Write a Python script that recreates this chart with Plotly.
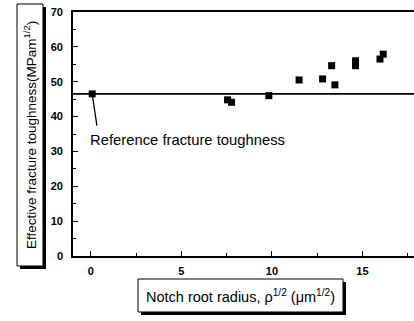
import plotly.graph_objects as go

# ---- data ----
notch_root_radius_sqrt = [0.07, 7.55, 7.77, 9.83, 11.5, 12.8, 13.3, 13.48, 14.62, 14.62, 15.97, 16.15]
effective_toughness = [46.5, 44.8, 44.1, 46.0, 50.5, 50.8, 54.6, 49.1, 56.0, 54.6, 56.5, 57.9]
reference_toughness = 46.5
x_ticks = [0, 5, 10, 15]
y_ticks = [0, 10, 20, 30, 40, 50, 60, 70]

FONT = "Liberation Sans, Arial, sans-serif"

fig = go.Figure()
fig.add_trace(go.Scatter(
    x=notch_root_radius_sqrt, y=effective_toughness, mode="markers",
    marker=dict(symbol="square", size=7, color="black"),
    showlegend=False, cliponaxis=False, hoverinfo="skip"))

fig.add_hline(y=reference_toughness, line=dict(color="black", width=1.6))

# arrow line from reference point to label
fig.add_shape(type="line", xref="x", yref="y",
              x0=notch_root_radius_sqrt[0], y0=reference_toughness,
              x1=0.33, y1=37.4, line=dict(color="black", width=1.3))
fig.add_annotation(x=-0.15, y=33.4, xref="x", yref="y", text="Reference fracture toughness",
                   showarrow=False, xanchor="left", yanchor="middle",
                   font=dict(family=FONT, size=14.8, color="black"))

# y title box with shadow
fig.add_shape(type="rect", xref="paper", yref="paper", x0=-0.1554, x1=-0.0792, y0=-0.0533, y1=1.0205,
              fillcolor="black", line=dict(width=0), layer="below")
fig.add_shape(type="rect", xref="paper", yref="paper", x0=-0.1642, x1=-0.0880, y0=-0.041, y1=1.0328,
              fillcolor="white", line=dict(color="black", width=1), layer="below")
fig.add_annotation(x=-0.126, y=0.496, xref="paper", yref="paper", xanchor="center", yanchor="middle",
                   text="Effective fracture toughness(MPam<sup>1/2</sup>)", textangle=-90,
                   showarrow=False, font=dict(family=FONT, size=13.5, color="black"))

# x title box with shadow
fig.add_shape(type="rect", xref="paper", yref="paper", x0=0.1994, x1=0.8006, y0=-0.2418, y1=-0.1066,
              fillcolor="black", line=dict(width=0), layer="below")
fig.add_shape(type="rect", xref="paper", yref="paper", x0=0.1906, x1=0.7918, y0=-0.2295, y1=-0.0943,
              fillcolor="white", line=dict(color="black", width=1), layer="below")
fig.add_annotation(x=0.491, y=-0.162, xref="paper", yref="paper", xanchor="center", yanchor="middle",
                   text="Notch root radius, \u03c1<sup>1/2</sup> (\u03bcm<sup>1/2</sup>)",
                   showarrow=False, font=dict(family=FONT, size=14.5, color="black"))

fig.update_layout(
    width=414, height=321,
    margin=dict(l=73, r=0, t=12, b=65),
    paper_bgcolor="white", plot_bgcolor="rgba(0,0,0,0)",
    font=dict(family=FONT, color="black"),
    hovermode=False,
    xaxis=dict(range=[-0.99, 17.85], tickvals=x_ticks, showgrid=False, zeroline=False,
               showline=True, linecolor="black", linewidth=1.6, mirror=True,
               ticks="inside", ticklen=5, tickwidth=1.3, tickcolor="black",
               minor=dict(dtick=2.5, tick0=0, ticks="inside", ticklen=3, tickcolor="black"),
               tickfont=dict(family=FONT, size=11, weight="bold"), ticklabelstandoff=4),
    yaxis=dict(range=[0, 70], tickvals=y_ticks, showgrid=False, zeroline=False,
               showline=True, linecolor="black", linewidth=1.6, mirror=False,
               ticks="inside", ticklen=5, tickwidth=1.3, tickcolor="black",
               minor=dict(dtick=5, tick0=0, ticks="inside", ticklen=3, tickcolor="black"),
               tickfont=dict(family=FONT, size=11, weight="bold"), ticklabelstandoff=6),
)

fig.write_html("out.html", config={"displayModeBar": False},
               post_script="document.body.style.margin='0';")
